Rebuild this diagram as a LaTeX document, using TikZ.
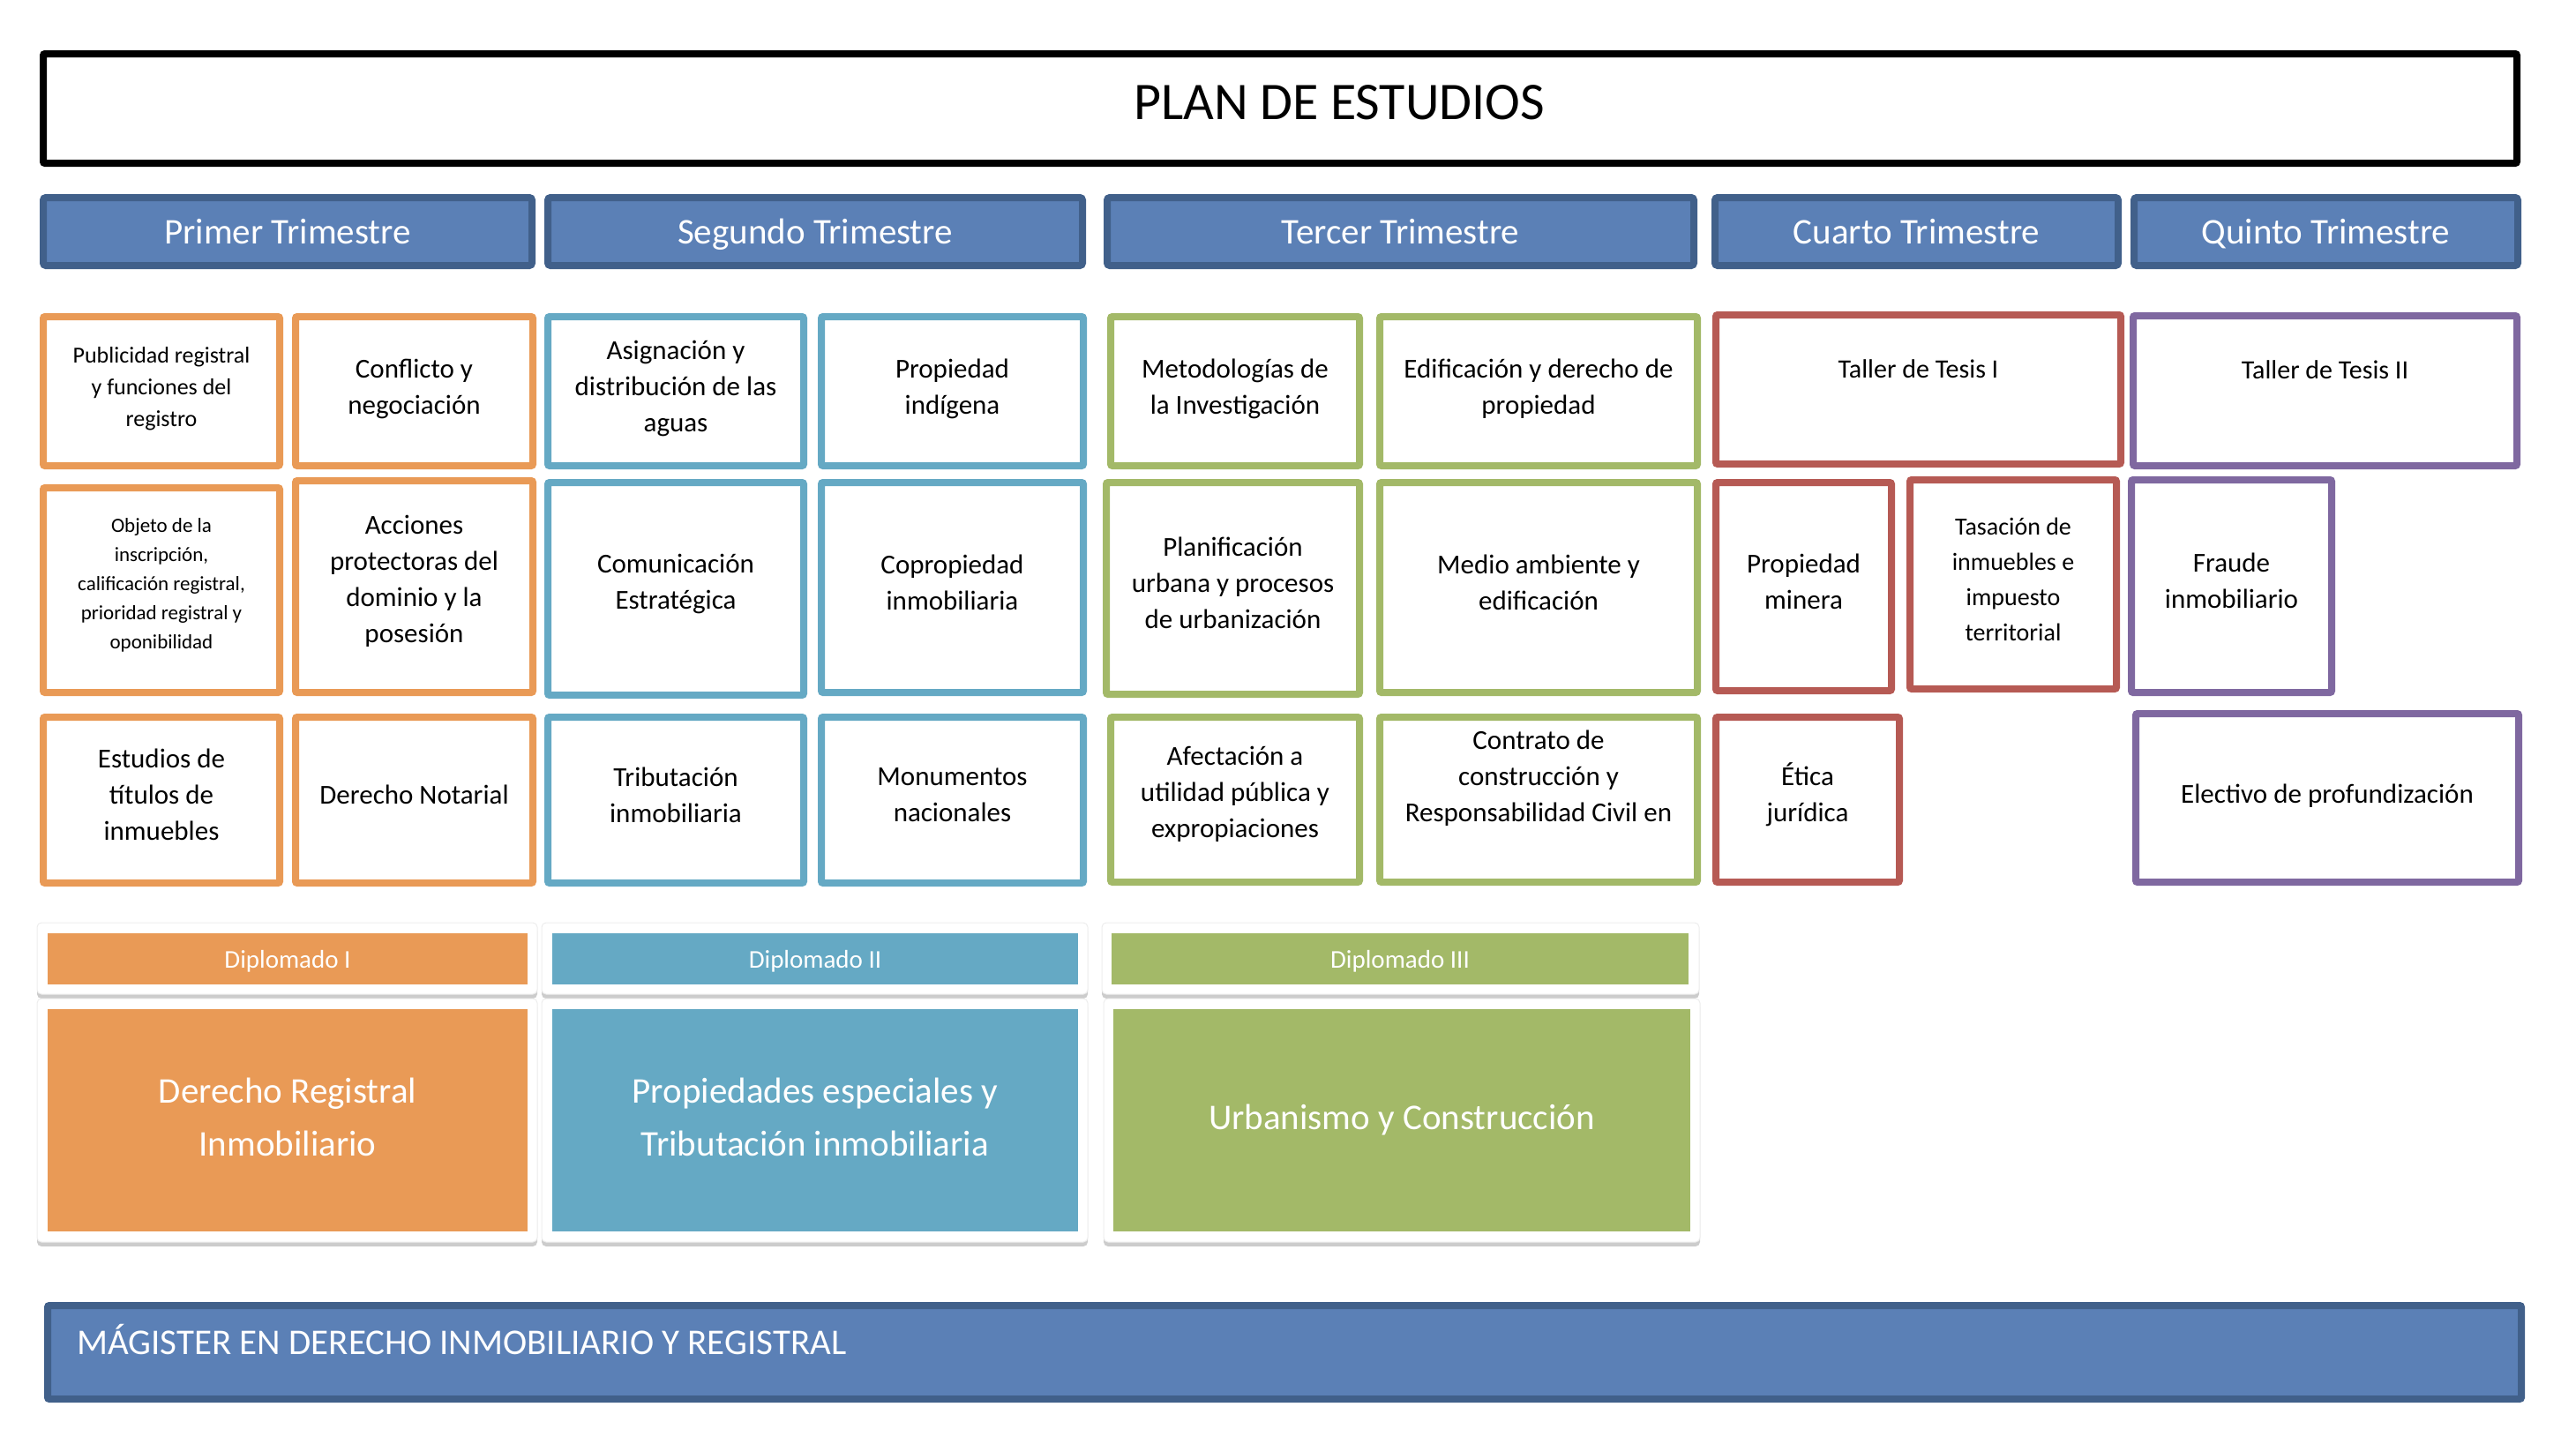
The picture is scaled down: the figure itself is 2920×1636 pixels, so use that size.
\documentclass[tikz,border=0pt]{standalone}
\usepackage{fontspec}
\setmainfont{Carlito}
\usetikzlibrary{shadows}
\definecolor{corange}{HTML}{E99A56}
\definecolor{cblue}{HTML}{65A9C4}
\definecolor{cgreen}{HTML}{A3B968}
\definecolor{cred}{HTML}{B65A54}
\definecolor{cpurple}{HTML}{7F68A0}
\definecolor{hfill}{HTML}{5B80B6}
\definecolor{hborder}{HTML}{41608A}
\newcommand{\fs}[2]{\fontsize{#1}{#2}\selectfont}
% #1 style, #2 name, #3 x1, #4 y1, #5 x2, #6 y2, #7 line width, #8 text
\newcommand{\obox}[8]{\node[#1, minimum width={#5-#3-#7}, minimum height={#6-#4-#7}] (#2) at ({(#3+#5)/2},{(#4+#6)/2}) {#8};}
% course box: #1 colour, #2 name, #3..#6 corners, #7 text options, #8 text
\newcommand{\crs}[8]{\node[course=#1, minimum width={#5-#3-8}, minimum height={#6-#4-8}] (#2) at ({(#3+#5)/2},{(#4+#6)/2}) {};
  \node[ctext, #7] (#2-t) at ([yshift=6pt]#2.center) {#8};}
\tikzset{
  course/.style={draw=#1, line width=8pt, fill=white, rounded corners=2pt, inner sep=0pt},
  ctext/.style={align=center, inner sep=0pt, font=\fs{31}{41}},
  rowone/.style={yshift=-3pt},
  header/.style={draw=hborder, fill=hfill, line width=8pt, rounded corners=3pt, inner sep=0pt, text=white, text depth=0pt, font=\fs{41}{50}},
  titlebox/.style={draw=black, line width=8pt, rounded corners=2pt, inner sep=0pt},
  card/.style={fill=white, draw=black!7, line width=1pt, rounded corners=5pt, inner sep=0pt,
    drop shadow={shadow xshift=0pt, shadow yshift=-5pt, fill=black, opacity=0.2}},
  dbar/.style={fill=#1, inner sep=0pt, text=white, text depth=0pt, font=\fs{29}{36}},
  dbig/.style={fill=#1, inner sep=0pt, text=white, align=center, font=\fs{41}{60}},
  magister/.style={draw=hborder, fill=hfill, line width=8pt, rounded corners=2pt, inner sep=0pt}
}
\begin{document}
\begin{tikzpicture}[x=1pt,y=-1pt]
\useasboundingbox (0,0) rectangle (2920,1636);
% title
\obox{titlebox}{title}{45}{57}{2857}{189}{8}{}
\node[font=\fs{60}{70}] (titletext) at (1518,116) {PLAN DE ESTUDIOS};
% headers
\obox{header}{h1}{45}{220}{607}{305}{8}{Primer Trimestre}
\obox{header}{h2}{617}{220}{1231}{305}{8}{Segundo Trimestre}
\obox{header}{h3}{1251}{220}{1924}{305}{8}{Tercer Trimestre}
\obox{header}{h4}{1940}{220}{2405}{305}{8}{Cuarto Trimestre}
\obox{header}{h5}{2415}{220}{2858}{305}{8}{Quinto Trimestre}
% primer trimestre
\crs{corange}{pub}{45}{355}{321}{532}{rowone, font=\fs{26}{36}}{Publicidad registral\\y funciones del\\registro}
\crs{corange}{conf}{331}{355}{608}{532}{rowone}{Conflicto y\\negociación}
\crs{corange}{obj}{45}{549}{321}{789}{font=\fs{23}{33}}{Objeto de la\\inscripción,\\calificación registral,\\prioridad registral y\\oponibilidad}
\crs{corange}{acc}{331}{541}{608}{789}{}{Acciones\\protectoras del\\dominio y la\\posesión}
\crs{corange}{est}{45}{809}{321}{1005}{}{Estudios de\\títulos de\\inmuebles}
\crs{corange}{notar}{331}{809}{608}{1005}{}{Derecho Notarial}
% segundo trimestre
\crs{cblue}{asig}{617}{355}{915}{532}{rowone}{Asignación y\\distribución de las\\aguas}
\crs{cblue}{indig}{927}{355}{1232}{532}{rowone}{Propiedad\\indígena}
\crs{cblue}{comu}{617}{543}{915}{792}{}{Comunicación\\Estratégica}
\crs{cblue}{copro}{927}{543}{1232}{789}{}{Copropiedad\\inmobiliaria}
\crs{cblue}{trib}{617}{809}{915}{1005}{}{Tributación\\inmobiliaria}
\crs{cblue}{monu}{927}{809}{1232}{1005}{}{Monumentos\\nacionales}
% tercer trimestre
\crs{cgreen}{meto}{1255}{355}{1545}{532}{rowone}{Metodologías de\\la Investigación}
\crs{cgreen}{edif}{1560}{355}{1928}{532}{rowone}{Edificación y derecho de\\propiedad}
\crs{cgreen}{plani}{1250}{543}{1545}{791}{}{Planificación\\urbana y procesos\\de urbanización}
\crs{cgreen}{medio}{1560}{543}{1928}{789}{}{Medio ambiente y\\edificación}
\crs{cgreen}{afec}{1255}{809}{1545}{1004}{}{Afectación a\\utilidad pública y\\expropiaciones}
\crs{cgreen}{contr}{1560}{809}{1928}{1004}{}{Contrato de\\construcción y\\Responsabilidad Civil en\\\mbox{}}
% cuarto trimestre
\crs{cred}{tes1}{1941}{353}{2408}{530}{rowone, font=\fs{30}{41}}{Taller de Tesis I\\\mbox{}}
\crs{cred}{mine}{1941}{543}{2148}{787}{}{Propiedad\\minera}
\crs{cred}{tasa}{2161}{540}{2403}{785}{font=\fs{28}{40}}{Tasación de\\inmuebles e\\impuesto\\territorial}
\crs{cred}{etica}{1941}{809}{2157}{1004}{}{Ética\\jurídica}
% quinto trimestre
\crs{cpurple}{tes2}{2414}{354}{2857}{532}{rowone, font=\fs{30}{41}}{Taller de Tesis II\\\mbox{}}
\crs{cpurple}{fraude}{2412}{540}{2647}{789}{}{Fraude\\inmobiliario}
\crs{cpurple}{elect}{2417}{805}{2859}{1004}{yshift=-4pt}{Electivo de profundización}
% diplomados
\obox{card}{c1a}{42}{1046}{609}{1127}{0}{}
\obox{card}{c1b}{42}{1132}{609}{1408}{0}{}
\obox{card}{c2a}{614}{1046}{1233}{1127}{0}{}
\obox{card}{c2b}{614}{1132}{1233}{1408}{0}{}
\obox{card}{c3a}{1249}{1046}{1926}{1127}{0}{}
\obox{card}{c3b}{1251}{1132}{1927}{1408}{0}{}
\obox{dbar=corange}{d1}{54}{1058}{598}{1116}{0}{Diplomado I}
\obox{dbar=cblue}{d2}{626}{1058}{1222}{1116}{0}{Diplomado II}
\obox{dbar=cgreen}{d3}{1260}{1058}{1914}{1116}{0}{Diplomado III}
\obox{dbig=corange}{b1}{54}{1144}{598}{1396}{0}{}
\obox{dbig=cblue}{b2}{626}{1144}{1222}{1396}{0}{}
\obox{dbig=cgreen}{b3}{1262}{1144}{1916}{1396}{0}{}
\node[dbig=none, fill=none] (b1-t) at ([yshift=4pt]b1.center) {Derecho Registral\\Inmobiliario};
\node[dbig=none, fill=none] (b2-t) at ([yshift=4pt]b2.center) {Propiedades especiales y\\Tributación inmobiliaria};
\node[dbig=none, fill=none] (b3-t) at (b3.center) {Urbanismo y Construcción};
% magister
\obox{magister}{mag}{50}{1476}{2862}{1590}{8}{}
\node[anchor=west, inner sep=0pt, text=white, font=\fs{41}{50}] (magtext) at (87,1519) {MÁGISTER EN DERECHO INMOBILIARIO Y REGISTRAL};
\end{tikzpicture}
\end{document}
